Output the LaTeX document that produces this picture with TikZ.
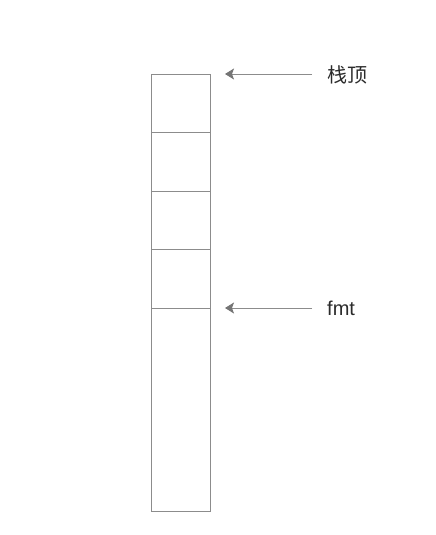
\documentclass[tikz,border=0pt]{standalone}
\usepackage{fontspec}
\setmainfont{Liberation Sans}
\newfontfamily\cjk{Noto Sans CJK SC}
\usetikzlibrary{arrows.meta}
\definecolor{linegray}{HTML}{8C8C8C}
\definecolor{headgray}{HTML}{757575}
\definecolor{textgray}{HTML}{2B2B2B}
\tikzset{
  stackline/.style={draw=linegray, line width=1pt},
  pointer/.style={draw=linegray, line width=1pt, -{Stealth[length=9pt,width=11pt,inset=2pt,color=headgray]}},
  lbl/.style={anchor=west, inner sep=0pt, text=textgray, font=\fontsize{20}{24}\selectfont}
}
\begin{document}
\begin{tikzpicture}[x=1pt,y=1pt]
\useasboundingbox (0,0) rectangle (436,-535);
\node[stackline, rectangle, minimum width=59pt, minimum height=436.5pt, inner sep=0pt, anchor=north west] (stack) at (151,-74) {};
\coordinate (d1l) at (151,-132.5); \coordinate (d1r) at (210,-132.5);
\coordinate (d2l) at (151,-191); \coordinate (d2r) at (210,-191);
\coordinate (d3l) at (151,-249.5); \coordinate (d3r) at (210,-249.5);
\coordinate (d4l) at (151,-308); \coordinate (d4r) at (210,-308);
\draw[stackline] (d1l) -- (d1r);
\draw[stackline] (d2l) -- (d2r);
\draw[stackline] (d3l) -- (d3r);
\draw[stackline] (d4l) -- (d4r);
\node[lbl] (top) at (327,-75) {\cjk 栈顶};
\node[lbl] (fmt) at (327,-308) {fmt};
\coordinate (t1) at (312,-74); \coordinate (h1) at (225,-74);
\coordinate (t2) at (312,-308); \coordinate (h2) at (225,-308);
\draw[pointer] (t1) -- (h1);
\draw[pointer] (t2) -- (h2);
\end{tikzpicture}
\end{document}
